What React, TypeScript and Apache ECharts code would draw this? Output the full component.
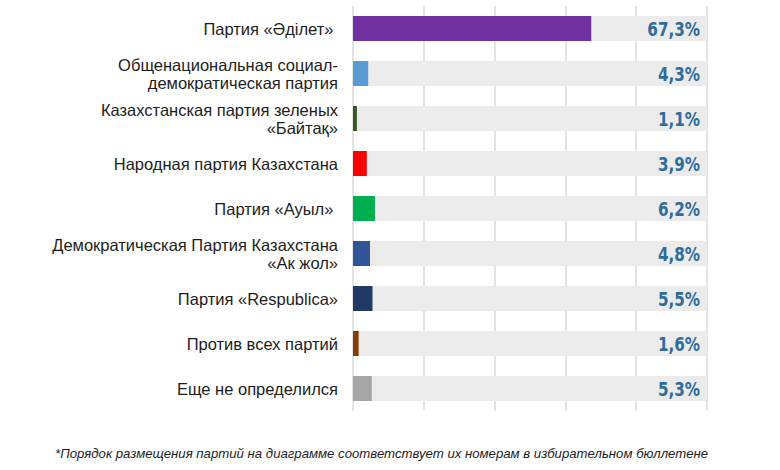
import React, { useEffect, useRef } from "react";
import * as echarts from "echarts";

const categories: string[] = [
  "Партия «Әділет» ",
  "Общенациональная социал-\nдемократическая партия",
  "Казахстанская партия зеленых\n«Байтақ»",
  "Народная партия Казахстана",
  "Партия «Ауыл» ",
  "Демократическая Партия Казахстана\n«Ак жол»",
  "Партия «Respublica»",
  "Против всех партий",
  "Еще не определился",
];

const values: number[] = [67.3, 4.3, 1.1, 3.9, 6.2, 4.8, 5.5, 1.6, 5.3];

const barColors: string[] = [
  "#7030a0",
  "#5b9bd5",
  "#375623",
  "#ff0000",
  "#00b050",
  "#2f5597",
  "#1f3864",
  "#843c0c",
  "#a5a5a5",
];

const scaleMax = 100;

const footnote =
  "*Порядок размещения партий на диаграмме соответствует их номерам в избирательном бюллетене";

export default function App() {
  const ref = useRef<HTMLDivElement>(null);

  useEffect(() => {
    if (!ref.current) return;
    const chart = echarts.init(ref.current, null, { renderer: "svg" });
    chart.setOption({
      animation: false,
      backgroundColor: "#ffffff",
      grid: { left: 353, right: 73, top: 6, bottom: 59, containLabel: false },
      xAxis: {
        type: "value",
        min: 0,
        max: scaleMax,
        interval: 20,
        axisLabel: { show: false },
        axisLine: { show: false },
        axisTick: { show: false },
        splitLine: { show: true, lineStyle: { color: "#dadada", width: 1.5 } },
      },
      yAxis: {
        type: "category",
        inverse: true,
        data: categories,
        axisLine: { show: false },
        axisTick: { show: false },
        axisLabel: {
          margin: 15,
          fontFamily: "'Liberation Sans', Arial, sans-serif",
          fontSize: 16.5,
          lineHeight: 18,
          color: "#1c1c1c",
          align: "right",
        },
      },
      series: [
        {
          type: "bar",
          data: values.map((v, i) => ({ value: v, itemStyle: { color: barColors[i] } })),
          barWidth: 25,
          showBackground: true,
          backgroundStyle: { color: "#ebebeb" },
          z: 2,
        },
        {
          type: "custom",
          silent: true,
          z: 3,
          data: values.map((v, i) => [v, i]),
          encode: { x: 0, y: 1 },
          renderItem: (params: any, api: any) => {
            const v = api.value(0);
            const pt = api.coord([scaleMax, api.value(1)]);
            return {
              type: "text",
              x: pt[0] - 7,
              y: pt[1] + 1,
              scaleX: 0.8,
              style: {
                text: v.toFixed(1).replace(".", ",") + "%",
                align: "right",
                verticalAlign: "middle",
                fontFamily: "'DejaVu Sans', sans-serif",
                fontWeight: "bold",
                fontSize: 19,
                fill: "#2e6c9b",
              },
            };
          },
        },
      ],
      graphic: [
        {
          type: "text",
          left: 55,
          top: 447,
          style: {
            text: footnote,
            fontFamily: "'Liberation Sans', Arial, sans-serif",
            fontStyle: "italic",
            fontSize: 13.2,
            fill: "#1c1c1c",
          },
        },
      ],
    });
    return () => chart.dispose();
  }, []);

  return (
    <div
      ref={ref}
      style={{ position: "fixed", left: 0, top: 0, width: 780, height: 470 }}
    />
  );
}
